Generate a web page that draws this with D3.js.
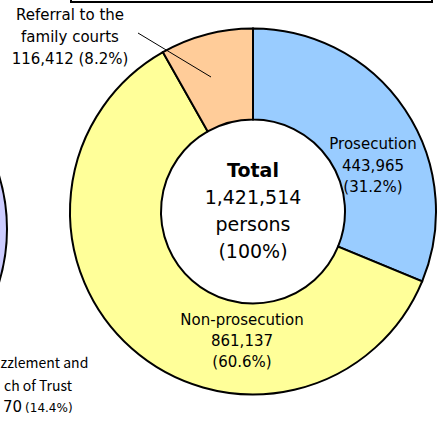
<!DOCTYPE html>
<html>
<head>
<meta charset="utf-8">
<script src="https://cdn.jsdelivr.net/npm/d3@7"></script>
<style>
  body { margin: 0; background: #fff; }
  svg { display: block; }
</style>
</head>
<body>
<svg></svg>
<script>
// Disposal of cases (donut)
const categories = ["Prosecution", "Non-prosecution", "Referral to the family courts"];
const counts = [443965, 861137, 116412];
const shares = ["31.2%", "60.6%", "8.2%"];
const sliceColors = ["#99ccff", "#ffff99", "#ffcc99"];
const totalCount = 1421514;

// clipped neighbour chart on the left
const leftLines = ["zzlement and", "ch of Trust"];
const leftValue = "70";
const leftShare = "(14.4%)";

const width = 439;
const height = 438;
const font = "'DejaVu Sans', sans-serif";
const fontNarrow = "'Noto Sans CJK JP', 'Noto Sans', sans-serif";

const svg = d3.select("svg")
    .attr("width", width)
    .attr("height", height)
    .attr("viewBox", [0, 0, width, height]);

// box of the heading above (only its lower edge is visible)
svg.append("rect")
    .attr("x", 71)
    .attr("y", -20)
    .attr("width", 361)
    .attr("height", 22)
    .attr("fill", "#fff")
    .attr("stroke", "#000")
    .attr("stroke-width", 2);

// neighbour pie, only its right rim shows
svg.append("circle")
    .attr("cx", -176)
    .attr("cy", 229)
    .attr("r", 183)
    .attr("fill", "#ccccff")
    .attr("stroke", "#000")
    .attr("stroke-width", 2);

const cx = 253, cy = 211.5;
const outerR = 183, innerR = 92;

const pie = d3.pie().sort(null).value(d => d)(counts);
const arc = d3.arc().innerRadius(innerR).outerRadius(outerR);

const g = svg.append("g").attr("transform", `translate(${cx},${cy})`);

g.selectAll("path")
    .data(pie)
    .join("path")
    .attr("d", arc)
    .attr("fill", (d, i) => sliceColors[i])
    .attr("stroke", "#000")
    .attr("stroke-width", 2);

const fmt = d3.format(",");

function block(x, y, lines, size, lh, weights) {
    const t = g.append("text")
        .attr("text-anchor", "middle")
        .attr("font-family", font)
        .attr("font-size", size)
        .attr("fill", "#000");
    lines.forEach((s, i) => {
        t.append("tspan")
            .attr("x", x)
            .attr("y", y + i * lh)
            .attr("font-weight", weights ? weights[i] : "normal")
            .text(s);
    });
    return t;
}

// centre
block(0, -34.5, ["Total", fmt(totalCount), "persons", "(100%)"], 19, 27, ["bold", "normal", "normal", "normal"]);

// slice labels
block(120, -62.5, ["Prosecution", fmt(counts[0]), "(" + shares[0] + ")"], 15, 21.5);
block(-11, 113.5, ["Non-prosecution", fmt(counts[1]), "(" + shares[1] + ")"], 15, 21);
block(-183, -191.5, ["Referral to the", "family courts", fmt(counts[2]) + " (" + shares[2] + ")"], 15, 22);

// leader line for the small slice
g.append("line")
    .attr("x1", -115)
    .attr("y1", -178.5)
    .attr("x2", -42)
    .attr("y2", -134.5)
    .attr("stroke", "#000")
    .attr("stroke-width", 1);

// neighbour chart labels, cut by the frame edge
const lt = svg.append("text")
    .attr("font-family", fontNarrow)
    .attr("font-size", 14)
    .attr("fill", "#000");
leftLines.forEach((s, i) => {
    lt.append("tspan").attr("x", i === 0 ? 0.5 : 4).attr("y", 368 + i * 23).text(s);
});
const lv = svg.append("text")
    .attr("x", 3)
    .attr("y", 412)
    .attr("font-family", font)
    .attr("fill", "#000");
lv.append("tspan").attr("font-size", 15).text(leftValue);
lv.append("tspan").attr("font-size", 12).attr("dx", 3).text(leftShare);
</script>
</body>
</html>
